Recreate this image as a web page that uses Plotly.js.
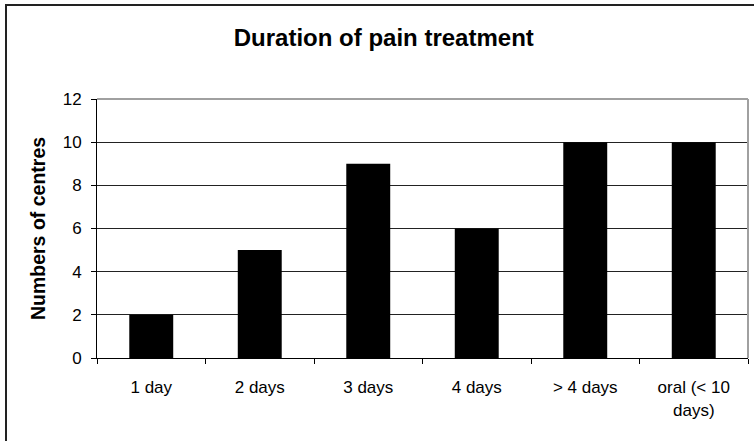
<!DOCTYPE html>
<html>
<head>
<meta charset="utf-8">
<script src="https://cdn.plot.ly/plotly-3.0.1.min.js"></script>
<style>html,body{margin:0;padding:0;background:#fff;} #chart{width:754px;height:441px;}</style>
</head>
<body>
<div id="chart"></div>
<script>
const categories = ["1 day", "2 days", "3 days", "4 days", "> 4 days", "oral (< 10<br>days)"];
const centres = [2, 5, 9, 6, 10, 10];
const yTicks = [0, 2, 4, 6, 8, 10, 12];

const W = 754, H = 441;
const L = 97, R = 6, T = 99, B = 83;
const pw = W - L - R, ph = H - T - B;
function px(x) { return (x - L) / pw; }
function py(y) { return (H - B - y) / ph; }

const trace = {
  type: 'bar',
  x: categories.map(c => c.replace('<', '&lt;').replace('&lt;br>', '<br>')),
  y: centres,
  marker: { color: '#000000', line: { width: 0 } },
  hoverinfo: 'x+y'
};

const layout = {
  width: W, height: H,
  margin: { l: L, r: R, t: T, b: B, pad: 0 },
  paper_bgcolor: '#ffffff',
  plot_bgcolor: '#ffffff',
  font: { family: 'Liberation Sans, Arial, sans-serif', color: '#000' },
  showlegend: false,
  bargap: 0.595,
  title: {
    text: '<b>Duration of pain treatment</b>',
    font: { size: 24, family: 'Liberation Sans, Arial, sans-serif', color: '#000' },
    x: 0.509, xref: 'container', xanchor: 'center',
    y: 1 - 38 / H, yref: 'container', yanchor: 'middle'
  },
  xaxis: {
    type: 'category',
    showline: true, linecolor: '#000', linewidth: 1,
    ticks: 'outside', tickson: 'boundaries', ticklen: 5, tickcolor: '#000', tickwidth: 1,
    tickfont: { size: 17, color: '#000' },
    ticklabelstandoff: 14,
    showgrid: false, zeroline: false, fixedrange: true
  },
  yaxis: {
    range: [0, 12],
    tickvals: yTicks,
    ticktext: yTicks.map(String),
    showline: true, linecolor: '#000', linewidth: 1,
    ticks: 'outside', ticklen: 5, tickcolor: '#000', tickwidth: 1,
    tickfont: { size: 17, color: '#000' },
    ticklabelstandoff: 6,
    showgrid: true, gridcolor: '#222', gridwidth: 1,
    zeroline: false, fixedrange: true,
    title: {
      text: '<b>Numbers of centres</b>',
      font: { size: 19.5, color: '#000' },
      standoff: 11
    }
  },
  shapes: [
    { type: 'line', xref: 'paper', yref: 'paper', x0: 0, x1: 1, y0: 1, y1: 1, line: { color: '#a0a0a0', width: 2 } },
    { type: 'line', xref: 'paper', yref: 'paper', x0: 1, x1: 1, y0: 0, y1: 1, line: { color: '#a0a0a0', width: 2 } },
    { type: 'line', xref: 'paper', yref: 'paper', x0: px(5), x1: px(760), y0: py(5), y1: py(5), line: { color: '#222', width: 2 } },
    { type: 'line', xref: 'paper', yref: 'paper', x0: px(6), x1: px(6), y0: py(5), y1: py(450), line: { color: '#222', width: 2 } }
  ]
};

Plotly.newPlot('chart', [trace], layout, { displayModeBar: false, staticPlot: true });
</script>
</body>
</html>
